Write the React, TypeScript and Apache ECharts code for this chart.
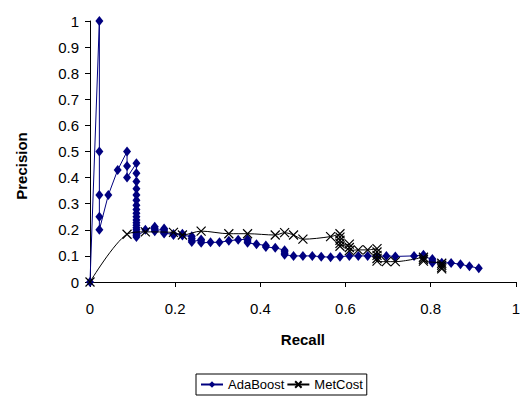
import React, { useEffect, useRef } from "react";
import * as echarts from "echarts";

const adaRecall = [
  0, 0.022, 0.022, 0.022, 0.022, 0.022, 0.043, 0.065, 0.087, 0.087, 0.087,
  0.109, 0.109, 0.109, 0.109, 0.109, 0.109, 0.109, 0.109, 0.109, 0.109, 0.109, 0.109, 0.109, 0.109, 0.109, 0.109, 0.109, 0.109, 0.109,
  0.13,
  0.152, 0.152, 0.152, 0.152,
  0.174, 0.174, 0.174, 0.174, 0.174,
  0.196, 0.196,
  0.217, 0.217,
  0.239, 0.239, 0.239, 0.239,
  0.261, 0.261, 0.261,
  0.283, 0.304, 0.326, 0.348,
  0.37, 0.37, 0.37,
  0.391,
  0.413, 0.413,
  0.435,
  0.457, 0.457, 0.457, 0.457,
  0.478, 0.5, 0.522, 0.543, 0.565, 0.587, 0.609, 0.63, 0.652, 0.674, 0.696, 0.717, 0.761,
  0.783, 0.783,
  0.804, 0.804, 0.804,
  0.826, 0.848, 0.87, 0.891, 0.913,
];
const adaPrecision = [
  0, 1, 0.5, 0.333, 0.25, 0.2, 0.333, 0.429, 0.5, 0.444, 0.4,
  0.455, 0.417, 0.385, 0.357, 0.333, 0.313, 0.294, 0.278, 0.263, 0.25, 0.238, 0.227, 0.217, 0.208, 0.2, 0.192, 0.185, 0.179, 0.172,
  0.2,
  0.212, 0.206, 0.2, 0.194,
  0.205, 0.2, 0.195, 0.19, 0.186,
  0.184, 0.18,
  0.185, 0.178,
  0.175, 0.168, 0.16, 0.153,
  0.163, 0.157, 0.15,
  0.152, 0.152, 0.158, 0.162,
  0.164, 0.157, 0.15,
  0.145,
  0.14, 0.134,
  0.131,
  0.122, 0.116, 0.11, 0.104,
  0.1, 0.1, 0.1, 0.097, 0.095, 0.097, 0.1, 0.1, 0.1, 0.098, 0.1, 0.098, 0.1,
  0.104, 0.097,
  0.088, 0.08, 0.074,
  0.074, 0.073, 0.068, 0.06, 0.053,
];

const metRecall = [
  0, 0.087, 0.13, 0.196, 0.217, 0.261, 0.326, 0.37, 0.435, 0.457, 0.478, 0.5, 0.565,
  0.587, 0.587, 0.587, 0.587, 0.587,
  0.609, 0.609, 0.609,
  0.63, 0.652,
  0.674, 0.674, 0.674, 0.674, 0.674,
  0.696, 0.717,
  0.783, 0.783, 0.783,
  0.826, 0.826, 0.826, 0.826,
];
const metPrecision = [
  0, 0.183, 0.192, 0.19, 0.18, 0.195, 0.185, 0.185, 0.18, 0.189, 0.18, 0.164, 0.174,
  0.185, 0.172, 0.16, 0.148, 0.137,
  0.145, 0.132, 0.12,
  0.123, 0.123,
  0.128, 0.115, 0.102, 0.09, 0.08,
  0.078, 0.078,
  0.095, 0.087, 0.08,
  0.072, 0.064, 0.056, 0.05,
];

const xTicks = { min: 0, max: 1, interval: 0.2 };
const yTicks = { min: 0, max: 1, interval: 0.1 };
const seriesNames = ["AdaBoost", "MetCost"];
const FONT = "'Liberation Sans', Arial, sans-serif";

export default function App() {
  const ref = useRef<HTMLDivElement>(null);
  useEffect(() => {
    if (!ref.current) return;
    const chart = echarts.init(ref.current, null, { renderer: "svg" });
    const ada = adaRecall.map((r, i) => [r, adaPrecision[i]]);
    const met = metRecall.map((r, i) => [r, metPrecision[i]]);
    chart.setOption({
      animation: false,
      backgroundColor: "#fff",
      textStyle: { fontFamily: FONT },
      grid: { left: 90, right: 5, top: 21, bottom: 120, containLabel: false },
      xAxis: {
        type: "value",
        ...xTicks,
        name: "Recall",
        nameLocation: "middle",
        nameGap: 50,
        nameTextStyle: { fontFamily: FONT, fontSize: 15, fontWeight: "bold", color: "#000" },
        axisLine: { show: true, onZero: false, lineStyle: { color: "#000", width: 1 } },
        axisTick: { show: true, inside: false, length: 5, lineStyle: { color: "#000" } },
        axisLabel: { fontFamily: FONT, fontSize: 15, color: "#000", margin: 19 },
        splitLine: { show: false },
      },
      yAxis: {
        type: "value",
        ...yTicks,
        axisLine: { show: true, onZero: false, lineStyle: { color: "#000", width: 1 } },
        axisTick: { show: true, inside: false, length: 5, lineStyle: { color: "#000" } },
        axisLabel: { fontFamily: FONT, fontSize: 15, color: "#000", margin: 11 },
        splitLine: { show: false },
      },
      legend: {
        left: 196,
        top: 374,
        orient: "horizontal",
        itemWidth: 22,
        itemHeight: 8,
        itemGap: 2,
        padding: [4, 4, 4, 4],
        borderColor: "#000",
        borderWidth: 1,
        textStyle: { fontFamily: FONT, fontSize: 13, color: "#000" },
        data: seriesNames,
      },
      graphic: [
        {
          type: "text",
          x: 21,
          y: 166,
          rotation: Math.PI / 2,
          style: {
            text: "Precision",
            fontFamily: FONT,
            fontSize: 15,
            fontWeight: "bold",
            fill: "#000",
            align: "center",
            verticalAlign: "middle",
          },
        },
      ],
      series: [
        {
          name: seriesNames[0],
          type: "line",
          data: ada,
          symbol: "diamond",
          symbolSize: [8, 10],
          lineStyle: { color: "#000080", width: 1 },
          itemStyle: { color: "#000080" },
          z: 2,
        },
        {
          name: seriesNames[1],
          type: "line",
          data: met,
          smooth: 0.3,
          symbol: "path://M0,0L10,10M10,0L0,10",
          symbolSize: 9,
          lineStyle: { color: "#000", width: 1 },
          itemStyle: { color: "none", borderColor: "#000", borderWidth: 1.2 },
          z: 3,
        },
      ],
    });
    return () => chart.dispose();
  }, []);
  return <div ref={ref} style={{ width: 523, height: 402, position: "absolute", left: 0, top: 0 }} />;
}
